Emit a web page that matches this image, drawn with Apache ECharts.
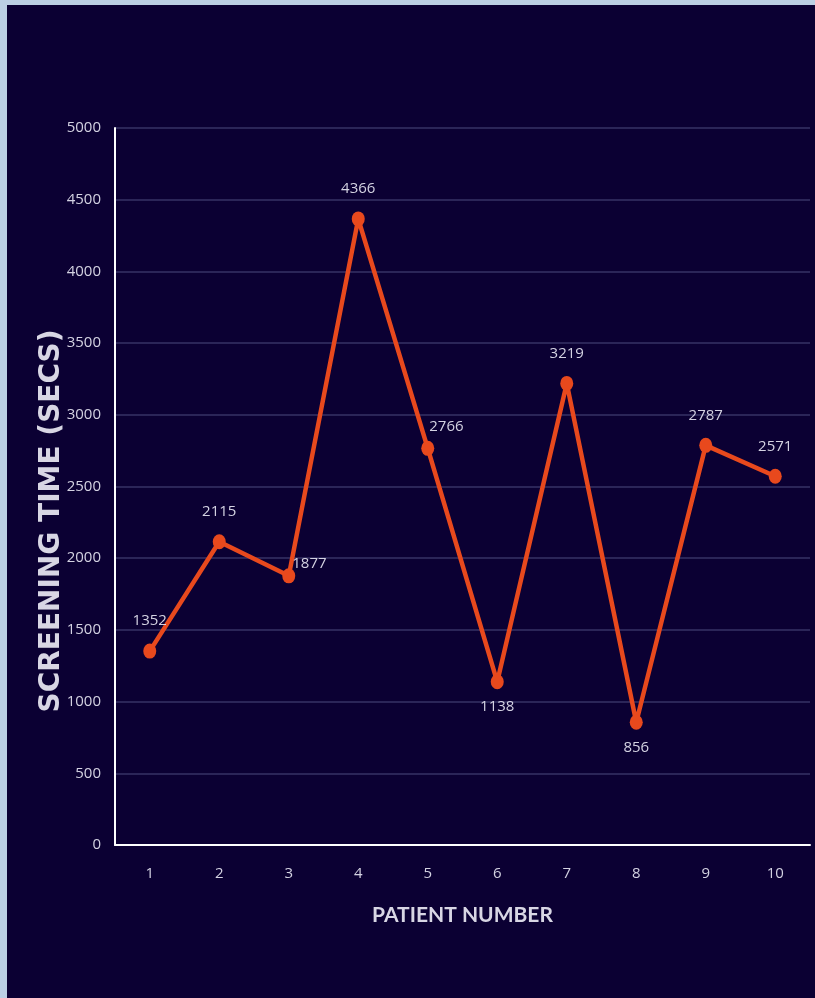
<!DOCTYPE html>
<html>
<head>
<meta charset="utf-8">
<script src="https://cdn.jsdelivr.net/npm/echarts@6/dist/echarts.min.js"></script>
<style>
  html, body { margin: 0; padding: 0; background: #bcd0e4; width: 815px; height: 998px; overflow: hidden; }
  #chart { position: absolute; left: 7px; top: 5px; width: 808px; height: 993px; background: #0b0033; }
</style>
</head>
<body>
<div id="chart"></div>
<script>
// Screening time per patient
const patients = ['1', '2', '3', '4', '5', '6', '7', '8', '9', '10'];
const screeningSecs = [1352, 2115, 1877, 4366, 2766, 1138, 3219, 856, 2787, 2571];
// where each value label sits relative to its point
const labelPlacement = ['top', 'top', 'right', 'top', 'right', 'bottom', 'top', 'bottom', 'top', 'top'];

const labelColor = '#d4d2e2';
const chart = echarts.init(document.getElementById('chart'));

const points = screeningSecs.map((v, i) => {
  const pos = labelPlacement[i];
  const label = { position: pos, distance: pos === 'bottom' ? 10 : 15 };
  if (pos === 'right') { label.offset = [-12, -12]; label.distance = 9; }
  if (i === 4) label.offset = [-14, -22];
  return { value: v, label };
});

chart.setOption({
  backgroundColor: '#0b0033',
  animation: false,
  grid: { left: 108, top: 123, right: 5, bottom: 153 },
  graphic: [{
    // vertical axis title, centred a little below the plot's midline
    type: 'text',
    x: 45,
    y: 516,
    rotation: Math.PI / 2,
    style: {
      text: 'SCREENING TIME (SECS)',
      fill: '#d8d6e4',
      font: 'bold 28px "DejaVu Sans"',
      textAlign: 'center',
      textVerticalAlign: 'middle'
    }
  }],
  xAxis: {
    type: 'category',
    data: patients,
    boundaryGap: true,
    name: 'PATIENT NUMBER',
    nameLocation: 'middle',
    nameGap: 60,
    nameTextStyle: { color: '#d8d6e4', fontSize: 21, fontWeight: 'bold', fontFamily: 'Lato' },
    axisLine: { lineStyle: { color: '#ffffff', width: 2 } },
    axisTick: { show: false },
    axisLabel: { color: labelColor, fontSize: 15, fontFamily: 'Open Sans', margin: 21 },
    splitLine: { show: false }
  },
  yAxis: {
    type: 'value',
    min: 0,
    max: 5000,
    interval: 500,
    axisLine: { show: true, lineStyle: { color: '#ffffff', width: 2 } },
    axisTick: { show: false },
    axisLabel: { color: labelColor, fontSize: 15, fontFamily: 'Open Sans', margin: 14, formatter: v => String(v) },
    splitLine: { lineStyle: { color: '#2b2558', width: 2 } }
  },
  series: [{
    type: 'line',
    data: points,
    symbol: 'circle',
    symbolSize: [13, 15],
    lineStyle: { color: '#e8491d', width: 4.5 },
    itemStyle: { color: '#e8491d' },
    label: {
      show: true,
      color: labelColor,
      fontSize: 15,
      fontFamily: 'Open Sans'
    }
  }]
});
</script>
</body>
</html>
